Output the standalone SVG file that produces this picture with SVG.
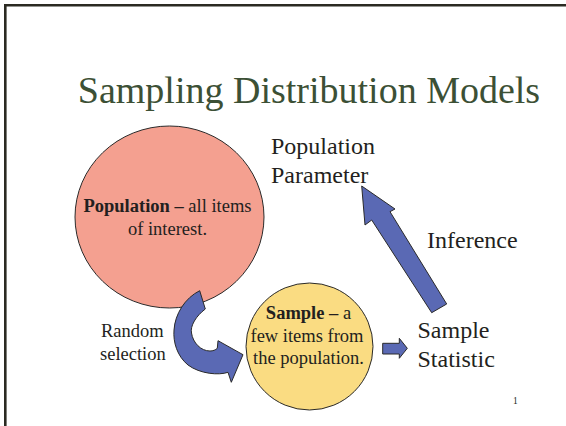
<svg xmlns="http://www.w3.org/2000/svg" width="566" height="426" viewBox="0 0 566 426">
  <style>
    text { font-family: "Liberation Serif", "Times New Roman", serif; fill: #231f20; }
    .title { font-size: 38px; fill: #3c5035; }
    .label { font-size: 24px; }
    .body { font-size: 18.5px; }
    .bold { font-weight: bold; }
    .shape { stroke: #2a2a2a; stroke-width: 1; stroke-linejoin: miter; }
    .arrow { fill: #5a69b4; stroke: #2a2a2a; stroke-width: 1; stroke-linejoin: miter; }
  </style>

  <rect width="566" height="426" fill="#ffffff"/>
  <!-- slide frame (top and left edges) -->
  <path d="M5.3,426 V5.3 H566" fill="none" stroke="#2b2a22" stroke-width="2.6"/>

  <text class="title" x="309" y="103" text-anchor="middle">Sampling Distribution Models</text>

  <g id="population">
    <ellipse class="shape" cx="169.5" cy="217" rx="94.5" ry="91" fill="#f4a090"/>
    <text class="body" x="167.5" y="212" text-anchor="middle"><tspan class="bold">Population –</tspan> all items</text>
    <text class="body" x="167.5" y="235" text-anchor="middle">of interest.</text>
  </g>

  <g id="sample">
    <circle class="shape" cx="309.5" cy="346.5" r="63.5" fill="#fadc82"/>
    <text class="body" x="308.5" y="319" text-anchor="middle"><tspan class="bold">Sample –</tspan> a</text>
    <text class="body" x="307" y="341.5" text-anchor="middle">few items from</text>
    <text class="body" x="308.5" y="364" text-anchor="middle">the population.</text>
  </g>

  <g id="parameter">
    <text class="label" x="271" y="154">Population</text>
    <text class="label" x="271" y="183">Parameter</text>
  </g>

  <g id="statistic">
    <text class="label" x="417.5" y="338">Sample</text>
    <text class="label" x="417.5" y="367">Statistic</text>
  </g>

  <g id="connectors">
    <!-- random selection: curved arrow from population to sample -->
    <path class="arrow" d="M199.7,290.7 L205.3,309 C196,316 190,326 191.5,333 C193,343 201,351 210,351 C213,351 215.5,350 217.3,348.3 L218,340.7 L243,354.7 L231.3,382.3 L228,372.3 C219,375.5 200,374 188,365 C177,356 173,342 174,330 C175,314 185,298 199.7,290.7 Z"/>
    <text class="body" x="101" y="336.5">Random</text>
    <text class="body" x="100" y="360">selection</text>

    <!-- sample to statistic -->
    <path class="arrow" d="M382.7,343.3 H399.3 V338.3 L407.3,348.3 L399.3,358.3 V354 H382.7 Z"/>

    <!-- inference: statistic back to parameter -->
    <path class="arrow" d="M431.7,312.7 L371.7,220 L365,225 L361.7,186 L395,209 L390,211.7 L446.7,304 Z"/>
    <text class="label" x="427" y="248">Inference</text>
  </g>

  <text x="513" y="404" font-size="9.5">1</text>
</svg>
